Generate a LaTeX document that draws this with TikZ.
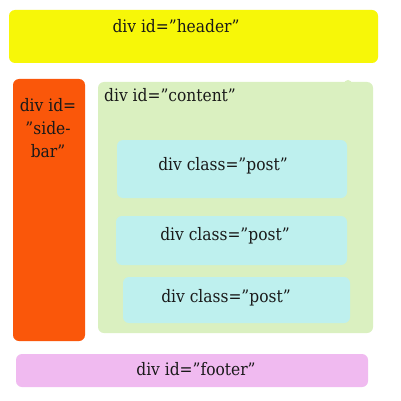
\documentclass[tikz,border=0pt]{standalone}
\usepackage{fontspec}
\setmainfont{DejaVu Serif Condensed}
\definecolor{hdr}{HTML}{F7F708}
\definecolor{side}{HTML}{FA570A}
\definecolor{cont}{HTML}{DAF0C0}
\definecolor{post}{HTML}{BEF0EE}
\definecolor{foot}{HTML}{F0BAF0}
\tikzset{
  box/.style={rounded corners=6pt, inner sep=0pt, draw=none},
  lbl/.style={font=\fontsize{17.2}{21}\selectfont, anchor=base, inner sep=0pt, text=black!90}
}
\begin{document}
\begin{tikzpicture}[x=1pt,y=-1pt]
\useasboundingbox (0,0) rectangle (400,401);
\fill[white] (0,0) rectangle (400,401);
\node[box, fill=hdr, minimum width=369pt, minimum height=53pt] (header) at (193.5,36.5) {};
\node[box, fill=side, minimum width=72pt, minimum height=262pt] (sidebar) at (49,210) {};
\node[circle, fill=cont, inner sep=0pt, minimum size=8pt] (bump) at (348,84) {};
\node[box, fill=cont, minimum width=275pt, minimum height=251pt] (content) at (235.5,207.5) {};
\node[box, fill=post, minimum width=230pt, minimum height=58pt] (post1) at (232,169) {};
\node[box, fill=post, minimum width=231pt, minimum height=49pt] (post2) at (231.5,240.5) {};
\node[box, fill=post, minimum width=227pt, minimum height=46pt] (post3) at (236.5,300) {};
\node[box, fill=foot, minimum width=352pt, minimum height=33pt] (footer) at (192,370.5) {};
\node[lbl] (lheader) at (176,33) {div id=”header”};
\node[lbl] (lside1) at (48,112) {div id=};
\node[lbl] (lside2) at (48,135) {”side-};
\node[lbl] (lside3) at (48,157) {bar”};
\node[lbl, anchor=base west] (lcontent) at (104,102) {div id=”content”};
\node[lbl] (lpost1) at (223,170) {div class=”post”};
\node[lbl] (lpost2) at (225,240) {div class=”post”};
\node[lbl] (lpost3) at (226,302) {div class=”post”};
\node[lbl] (lfooter) at (196,375) {div id=”footer”};
\end{tikzpicture}
\end{document}
